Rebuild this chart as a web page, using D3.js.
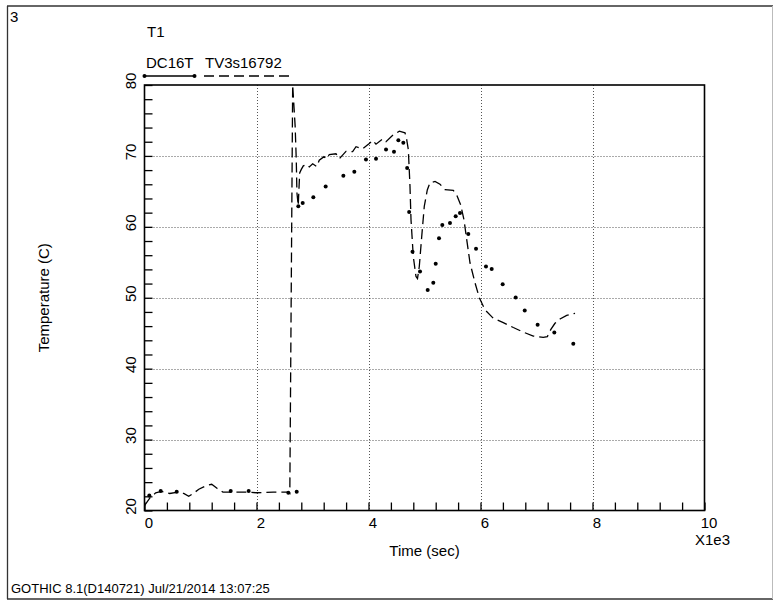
<!DOCTYPE html>
<html>
<head>
<meta charset="utf-8">
<script src="https://cdn.jsdelivr.net/npm/d3@7"></script>
<style>
  body { margin: 0; background: #fff; }
  svg { display: block; font-family: "Liberation Sans", Arial, sans-serif; }
</style>
</head>
<body>
<svg id="chart" width="774" height="605"></svg>
<script>
// ---- Data ----
const dcTime = [86, 289, 575, 1539, 1860, 2568, 2718, 2747, 2825, 3015, 3235, 3551, 3747, 3955, 4134, 4313, 4455,
  4533, 4622, 4690, 4726, 4786, 4920, 5057, 5157, 5200, 5259, 5318, 5455, 5557, 5634, 5782, 5920, 6098, 6200, 6396, 6628,
  6790, 7020, 7318, 7657];
const dcTemp = [22.1, 22.75, 22.65, 22.75, 22.75, 22.5, 22.65, 62.9, 63.37, 64.17, 65.7, 67.2, 67.75, 69.5, 69.6, 70.9, 70.6,
  72.2, 71.85, 68.3, 62.1, 56.5, 53.7, 51.1, 52.1, 54.8, 58.4, 60.27, 60.55, 61.5, 61.96, 59.0, 56.9, 54.4, 54.05, 51.9, 50.05,
  48.2, 46.2, 45.1, 43.5];

const tvTime = [0, 100, 200, 300, 450, 600, 700, 790, 870, 970, 1100, 1200, 1300, 1400, 1600, 1800, 2000, 2300, 2560, 2595,
  2646, 2690, 2710, 2722, 2745, 2771, 2800, 2836, 2896, 2943, 3003, 3075, 3121, 3205, 3254, 3300, 3420, 3479, 3598, 3717,
  3777, 3896, 4014, 4075, 4134, 4254, 4313, 4432, 4551, 4652, 4682, 4711, 4741, 4759, 4800, 4848, 4875, 4907, 4950, 4996,
  5050, 5098, 5188, 5277, 5366, 5514, 5575, 5646, 5705, 5754, 5813, 5902, 5979, 6080, 6229, 6407, 6586, 6764, 6943, 7121,
  7193, 7254, 7330, 7420, 7539, 7688];
const tvTemp = [20.7, 21.8, 22.5, 22.7, 22.4, 22.6, 22.4, 22.0, 22.4, 23.0, 23.5, 23.7, 23.1, 22.6, 22.6, 22.6, 22.5, 22.6, 22.6, 22.4,
  80, 74.2, 69.5, 64.8, 63.0, 67.6, 68.1, 68.6, 68.8, 68.45, 68.9, 68.5, 69.4, 69.9, 69.6, 70.2, 70.3, 69.6, 70.65, 70.6,
  71.3, 71.0, 71.75, 72.2, 71.65, 72.4, 72.0, 72.9, 73.5, 73.25, 72.3, 70.9, 65.7, 61.0, 55.8, 53.0, 52.7, 54.4, 58.6, 62.9,
  65.2, 66.2, 66.4, 66.0, 65.25, 65.15, 64.5, 63.1, 61.0, 58.2, 54.9, 52.1, 50.0, 48.3, 47.1, 46.5, 45.8, 45.15, 44.6, 44.4,
  44.5, 45.5, 46.4, 47.0, 47.5, 47.8];

const xDomain = [0, 10000];
const yDomain = [20, 80];
const xMinorTicks = d3.range(0, 10001, 400);
const yMinorTicks = d3.range(20, 81, 2);
const xGridValues = [2000, 4000, 6000, 8000];
const yGridValues = [30, 40, 50, 60, 70];
const xLabelTicks = [0, 2000, 4000, 6000, 8000, 10000];
const yLabelTicks = [20, 30, 40, 50, 60, 70, 80];
const seriesNames = ["DC16T", "TV3s16792"];

// ---- Layout ----
const svg = d3.select("#chart");
const L = 144.5, R = 704.5, T = 85, B = 510.5;
const x = d3.scaleLinear().domain(xDomain).range([L, R]);
const y = d3.scaleLinear().domain(yDomain).range([B, T]);

// Outer frame
svg.append("line").attr("x1", 7).attr("x2", 773).attr("y1", 6).attr("y2", 6).attr("stroke", "#333").attr("stroke-width", 1.5);
svg.append("line").attr("x1", 7.5).attr("x2", 7.5).attr("y1", 6).attr("y2", 599).attr("stroke", "#333").attr("stroke-width", 1.3);
svg.append("line").attr("x1", 7).attr("x2", 773).attr("y1", 599).attr("y2", 599).attr("stroke", "#333").attr("stroke-width", 1.5);
svg.append("line").attr("x1", 772.5).attr("x2", 772.5).attr("y1", 6).attr("y2", 599).attr("stroke", "#bbb").attr("stroke-width", 1);

// Grid
const grid = svg.append("g").attr("stroke", "#555").attr("stroke-width", 1).attr("stroke-dasharray", "1,2");
grid.selectAll(".gx").data(xGridValues).join("line")
  .attr("x1", d => Math.round(x(d)) + 0.5).attr("x2", d => Math.round(x(d)) + 0.5).attr("y1", T).attr("y2", B);
grid.selectAll(".gy").data(yGridValues).join("line")
  .attr("x1", L).attr("x2", R).attr("y1", d => Math.round(y(d)) + 0.5).attr("y2", d => Math.round(y(d)) + 0.5);

// Axes
const xAxis = d3.axisBottom(x).tickValues(xMinorTicks).tickSizeInner(-8).tickSizeOuter(0).tickPadding(7)
  .tickFormat(d => xLabelTicks.includes(d) ? String(d / 1000) : "");
const gx = svg.append("g").attr("transform", `translate(0,${B})`).call(xAxis);
gx.select(".domain").remove();
gx.selectAll("line").attr("stroke", "#000").attr("stroke-width", 1.3);
gx.selectAll("text").attr("font-size", 15).attr("fill", "#000").attr("dx", 4)
  .attr("font-family", "'Liberation Sans', Arial, sans-serif");

const yAxis = d3.axisLeft(y).tickValues(yMinorTicks).tickSizeInner(-8).tickSizeOuter(0)
  .tickFormat(d => yLabelTicks.includes(d) ? String(d) : "");
const gy = svg.append("g").attr("transform", `translate(${L},0)`).call(yAxis);
gy.select(".domain").remove();
gy.selectAll("line").attr("stroke", "#000").attr("stroke-width", 1.3);
gy.selectAll("text").attr("font-size", 15).attr("fill", "#000")
  .attr("font-family", "'Liberation Sans', Arial, sans-serif")
  .attr("transform", "rotate(-90)").attr("text-anchor", "middle")
  .attr("x", 4.5).attr("y", -8.5).attr("dy", 0);

// Plot border
svg.append("rect").attr("x", L).attr("y", T).attr("width", R - L).attr("height", B - T)
  .attr("fill", "none").attr("stroke", "#000").attr("stroke-width", 1.6);

// Dashed series
const line = d3.line().x(d => x(d[0])).y(d => y(d[1]));
svg.append("path").datum(d3.zip(tvTime, tvTemp)).attr("d", line)
  .attr("fill", "none").attr("stroke", "#000").attr("stroke-width", 1.3).attr("stroke-dasharray", "10,5");

// Dots series
svg.append("g").selectAll("circle").data(d3.zip(dcTime, dcTemp)).join("circle")
  .attr("cx", d => x(d[0])).attr("cy", d => y(d[1])).attr("r", 2).attr("fill", "#000");

// Texts
const txt = (s, xx, yy, size, opts = {}) => {
  const t = svg.append("text").attr("x", xx).attr("y", yy).attr("font-size", size).attr("fill", "#000").text(s);
  if (opts.anchor) t.attr("text-anchor", opts.anchor);
  if (opts.rotate) t.attr("transform", `rotate(${opts.rotate},${xx},${yy})`);
  return t;
};
txt("3", 10, 22, 15);
txt("T1", 147, 37, 15);
txt(seriesNames[0], 146, 68, 15);
txt(seriesNames[1], 205, 68, 15);
// Legend marks
svg.append("line").attr("x1", 144.5).attr("x2", 194.5).attr("y1", 76).attr("y2", 76).attr("stroke", "#000").attr("stroke-width", 1.3);
svg.selectAll(".lg").data([144.5, 194.5]).join("circle").attr("cx", d => d).attr("cy", 76).attr("r", 2).attr("fill", "#000");
svg.append("line").attr("x1", 204).attr("x2", 294).attr("y1", 76).attr("y2", 76).attr("stroke", "#000").attr("stroke-width", 1.3).attr("stroke-dasharray", "10,5");

txt("Time (sec)", (L + R) / 2, 556, 15, { anchor: "middle" });
txt("X1e3", 695, 545, 15);
txt("Temperature (C)", 49, (T + B) / 2, 15, { anchor: "middle", rotate: -90 });
txt("GOTHIC 8.1(D140721) Jul/21/2014 13:07:25", 11, 593, 13);
</script>
</body>
</html>
